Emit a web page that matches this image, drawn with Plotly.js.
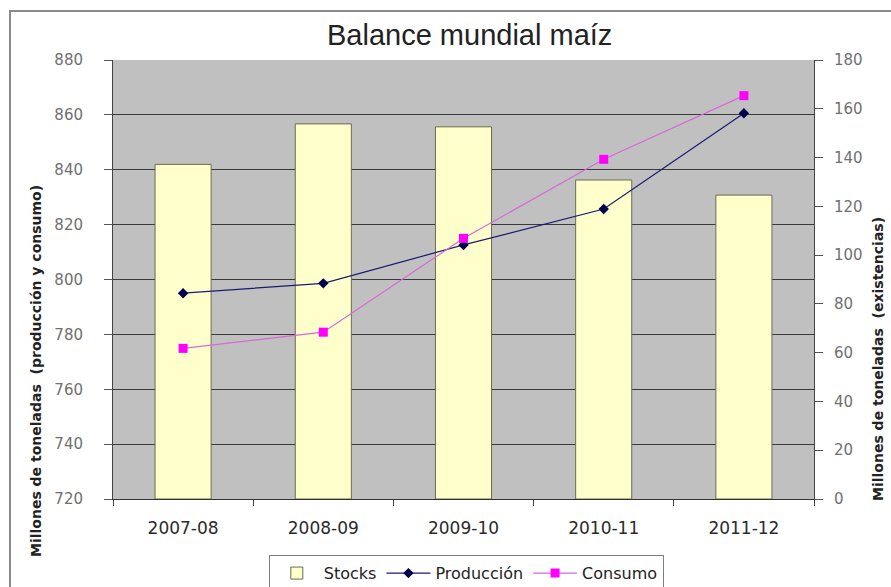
<!DOCTYPE html>
<html>
<head>
<meta charset="utf-8">
<script src="https://cdn.plot.ly/plotly-3.0.1.min.js"></script>
<style>
  html, body { margin: 0; padding: 0; background: #ffffff; overflow: hidden; }
  #frame { position: absolute; left: 9px; top: 10px; width: 1000px; height: 1000px;
           border: 2px solid #8a8a8a; box-sizing: border-box; }
  #chart { position: absolute; left: 0; top: 0; width: 891px; height: 587px; }
</style>
</head>
<body>
<div id="frame"></div>
<div id="chart"></div>
<script>
// ---- data ----
const categories = ['2007-08', '2008-09', '2009-10', '2010-11', '2011-12'];
const stocks = [137.2, 153.8, 152.6, 130.8, 124.6];       // right axis (existencias)
const produccion = [795.0, 798.6, 812.6, 825.7, 860.6];   // left axis
const consumo = [774.9, 780.8, 815.0, 843.8, 867.0];      // left axis
const leftTicks = [720, 740, 760, 780, 800, 820, 840, 860, 880];
const rightTicks = [0, 20, 40, 60, 80, 100, 120, 140, 160, 180];

const seriesNames = ['Stocks', 'Producción', 'Consumo'];
const titleText = 'Balance mundial maíz';
const leftTitle = 'Millones de toneladas\u00a0 (producción y consumo)';
const rightTitle = 'Millones de toneladas\u00a0 (existencias)';

const FONT = 'DejaVu Sans, Verdana, sans-serif';

const traces = [
  {
    type: 'bar', name: seriesNames[0], x: categories, y: stocks,
    xaxis: 'x', yaxis: 'y',
    marker: { color: '#FFFFCC', line: { color: '#6b6b50', width: 1 } },
    hoverinfo: 'skip'
  },
  {
    type: 'scatter', mode: 'lines+markers', name: seriesNames[1], x: categories, y: produccion,
    xaxis: 'x', yaxis: 'y2',
    line: { color: '#1a1a70', width: 1.2 },
    marker: { symbol: 'diamond', size: 8, color: '#000050' },
    hoverinfo: 'skip'
  },
  {
    type: 'scatter', mode: 'lines+markers', name: seriesNames[2], x: categories, y: consumo,
    xaxis: 'x', yaxis: 'y2',
    line: { color: '#d868d8', width: 1.2 },
    marker: { symbol: 'square', size: 9, color: '#ff00ff' },
    hoverinfo: 'skip'
  }
];

const layout = {
  width: 891, height: 587,
  margin: { l: 113, r: 77, t: 60, b: 88, pad: 0, autoexpand: false },
  paper_bgcolor: 'rgba(0,0,0,0)',
  plot_bgcolor: '#C0C0C0',
  showlegend: true,
  bargap: 0.6,
  font: { family: FONT, color: '#222' },
  xaxis: {
    type: 'category',
    tickson: 'boundaries',
    ticks: 'outside', ticklen: 6, tickcolor: '#444', tickwidth: 1,
    showline: true, linecolor: '#333', linewidth: 1,
    showgrid: false, zeroline: false,
    tickfont: { family: FONT, size: 17, color: '#2a2a2a' },
    ticklabelstandoff: 14
  },
  yaxis: {
    side: 'right',
    range: [0, 180], tickvals: rightTicks, ticktext: rightTicks.map(String),
    ticks: 'outside', ticklen: 8, tickcolor: '#555', tickwidth: 1,
    showline: true, linecolor: '#444', linewidth: 1,
    showgrid: false, zeroline: false,
    tickfont: { family: FONT, size: 15, color: '#707070' },
    ticklabelstandoff: 8
  },
  yaxis2: {
    overlaying: 'y', side: 'left',
    range: [720, 880], tickvals: leftTicks, ticktext: leftTicks.map(String),
    ticks: 'outside', ticklen: 8, tickcolor: '#555', tickwidth: 1,
    showline: true, linecolor: '#444', linewidth: 1,
    showgrid: true, gridcolor: '#3a3a3a', gridwidth: 1, zeroline: false,
    tickfont: { family: FONT, size: 15, color: '#707070' },
    ticklabelstandoff: 18
  },
  legend: {
    orientation: 'h', x: 0.504, xanchor: 'center', y: -0.128, yanchor: 'top',
    bgcolor: '#ffffff', bordercolor: '#7f7f7f', borderwidth: 1,
    font: { family: FONT, size: 16, color: '#222' },
    itemwidth: 44,
    traceorder: 'normal'
  },
  annotations: [
    {
      text: titleText, xref: 'paper', yref: 'paper', x: 0.509, y: 1.057,
      xanchor: 'center', yanchor: 'middle', showarrow: false,
      font: { family: 'Liberation Sans, Arial, sans-serif', size: 29, color: '#222' }
    },
    {
      text: leftTitle, xref: 'paper', yref: 'paper', x: -0.1098, y: 0.2916,
      xanchor: 'center', yanchor: 'middle', showarrow: false, textangle: -90,
      font: { family: FONT, size: 14, color: '#222', weight: 'bold' }
    },
    {
      text: rightTitle, xref: 'paper', yref: 'paper', x: 1.0913, y: 0.3189,
      xanchor: 'center', yanchor: 'middle', showarrow: false, textangle: -90,
      font: { family: FONT, size: 14, color: '#222', weight: 'bold' }
    }
  ]
};

Plotly.newPlot('chart', traces, layout, { displayModeBar: false, staticPlot: true });
</script>
</body>
</html>
